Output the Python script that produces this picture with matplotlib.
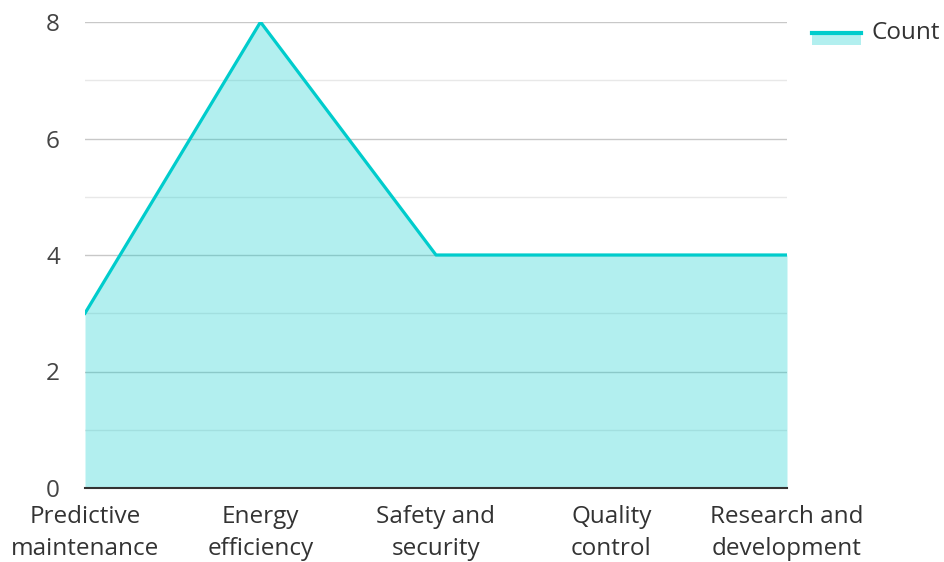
import matplotlib.pyplot as plt
from matplotlib.lines import Line2D
from matplotlib.patches import Rectangle

categories = ["Predictive\nmaintenance", "Energy\nefficiency", "Safety and\nsecurity",
              "Quality\ncontrol", "Research and\ndevelopment"]
counts = [3, 8, 4, 4, 4]
yticks = [0, 2, 4, 6, 8]

plt.rcParams["font.family"] = ["Open Sans", "DejaVu Sans"]

fig = plt.figure(figsize=(9.45, 5.62), dpi=100)
ax = fig.add_axes([85 / 945, 1 - 488 / 562, (787 - 85) / 945, (488 - 22) / 562])

x = list(range(len(categories)))
ax.fill_between(x, counts, 0, color="#00cccc", alpha=0.3, lw=0, zorder=2)
ax.plot(x, counts, color="#00cccc", lw=2.3, zorder=3)

ax.set_xlim(0, len(categories) - 1)
ax.set_ylim(0, 8)
ax.set_yticks(yticks)
ax.set_yticks([1, 3, 5, 7], minor=True)
ax.grid(axis="y", which="major", color="#c8c8c8", lw=1, zorder=1)
ax.grid(axis="y", which="minor", color="#e8e8e8", lw=1, zorder=1)
ax.set_axisbelow(True)
for s in ["top", "right", "left"]:
    ax.spines[s].set_visible(False)
ax.spines["bottom"].set_color("#333333")
ax.spines["bottom"].set_linewidth(1.5)
ax.spines["bottom"].set_zorder(4)

ax.set_xticks(x)
ax.set_xticklabels(categories, linespacing=1.45)
ax.tick_params(axis="x", length=0, pad=12, labelsize=17.5, labelcolor="#333333")
ax.tick_params(axis="y", which="both", length=0, pad=18, labelsize=17.5, labelcolor="#444444")

# legend
fig.patches.append(Rectangle((812 / 945, 1 - 45 / 562), 49 / 945, 11 / 562,
                             transform=fig.transFigure, color="#00cccc", alpha=0.3, lw=0))
fig.lines.append(Line2D([812 / 945, 861 / 945], [1 - 33 / 562, 1 - 33 / 562],
                        transform=fig.transFigure, color="#00cccc", lw=3))
fig.text(872 / 945, 1 - 33 / 562, "Count", fontsize=17.5, color="#333333", va="center")

fig.savefig("out.png", dpi=100)
